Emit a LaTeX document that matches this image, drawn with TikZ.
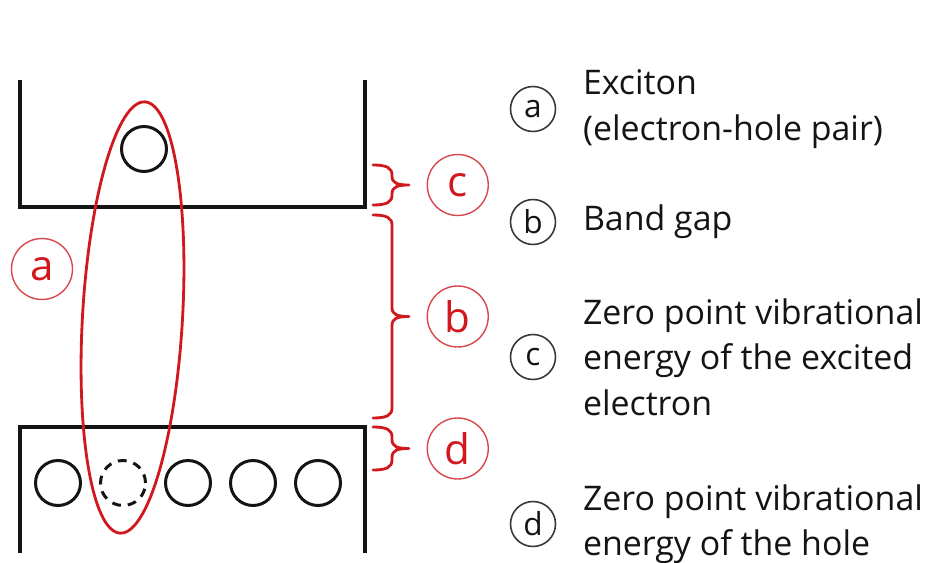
\documentclass[tikz,border=0pt]{standalone}
\usepackage{fontspec}
\usepackage{tikz}
\usetikzlibrary{positioning}
\newfontfamily\keyfont{Open Sans}
\definecolor{gapred}{RGB}{208,24,30}
\definecolor{inkblack}{RGB}{20,20,20}

% red curly bracket: x, top, bottom, name of the tip
\newcommand{\gapbrace}[4]{%
  \draw[bracestyle] (#1,#2) .. controls (#1+14,#2) and (#1+19,#2-3) .. (#1+19,#2-10)
    -- (#1+19,{(#2+#3)/2+9}) .. controls (#1+19,{(#2+#3)/2+2}) and (#1+24,{(#2+#3)/2}) .. (#1+36,{(#2+#3)/2}) coordinate (#4)
    .. controls (#1+24,{(#2+#3)/2}) and (#1+19,{(#2+#3)/2-2}) .. (#1+19,{(#2+#3)/2-9})
    -- (#1+19,#3+10) .. controls (#1+19,#3+3) and (#1+14,#3) .. (#1,#3);
}

\tikzset{
  band/.style={draw=inkblack,line width=2.4pt,line join=miter},
  hole/.style={circle,draw=inkblack,line width=1.7pt,minimum size=0.9cm,inner sep=0pt},
  bracestyle/.style={draw=gapred,line width=1.6pt,line join=round,line cap=round},
  redlabel/.style={circle,draw=gapred!80,line width=0.8pt,text=gapred,minimum size=1.22cm,inner sep=0pt,
    font=\keyfont\fontsize{24}{24}\selectfont},
  keylabel/.style={circle,draw=inkblack!85,line width=0.9pt,text=inkblack,minimum size=0.9cm,inner sep=0pt,
    font=\keyfont\fontsize{18}{18}\selectfont},
  keytext/.style={align=left,inner sep=0pt,text=inkblack,font=\keyfont\fontsize{19.3}{25.8}\selectfont}
}

\begin{document}
\begin{tikzpicture}[x=0.02cm,y=0.02cm]
\useasboundingbox (0,0) rectangle (932,562);

% conduction band and valence band
\draw[band] (20,482) -- (20,355) -- (365,355) -- (365,482);
\draw[band] (20,9) -- (20,135) -- (365,135) -- (365,9);

% electron and holes
\node[hole] (el) at (144,413) {};
\node[hole] (h1) at (58,79) {};
\node[hole,dashed,dash pattern=on 5pt off 4pt] (h2) at (123,79) {};
\node[hole] (h3) at (188,79) {};
\node[hole] (h4) at (253,79) {};
\node[hole] (h5) at (318,79) {};

% exciton
\draw[gapred,line width=1.6pt,rotate around={-3.3:(132.5,244.5)}] (132.5,244.5) ellipse [x radius=50,y radius=216];
\node[redlabel] (ra) at (42,293) {a};

% brackets
\gapbrace{373}{397}{357}{tipc}
\gapbrace{373}{347}{144}{tipb}
\gapbrace{373}{135}{92}{tipd}
\node[redlabel,right=10pt of tipc] (rc) {c};
\node[redlabel,right=10pt of tipb] (rb) {b};
\node[redlabel,right=10pt of tipd] (rd) {d};

% key
\node[keylabel] (ka) at (533,453) {a};
\node[keylabel] (kb) at (533,340) {b};
\node[keylabel] (kc) at (533,205) {c};
\node[keylabel] (kd) at (533,38) {d};
\node[keytext,right=15pt of ka] (ta) {Exciton\\(electron-hole pair)};
\node[keytext,right=15pt of kb] (tb) {Band gap};
\node[keytext,right=15pt of kc] (tc) {Zero point vibrational\\energy of the excited\\electron};
\node[keytext,right=15pt of kd] (td) {Zero point vibrational\\energy of the hole};
\end{tikzpicture}
\end{document}
